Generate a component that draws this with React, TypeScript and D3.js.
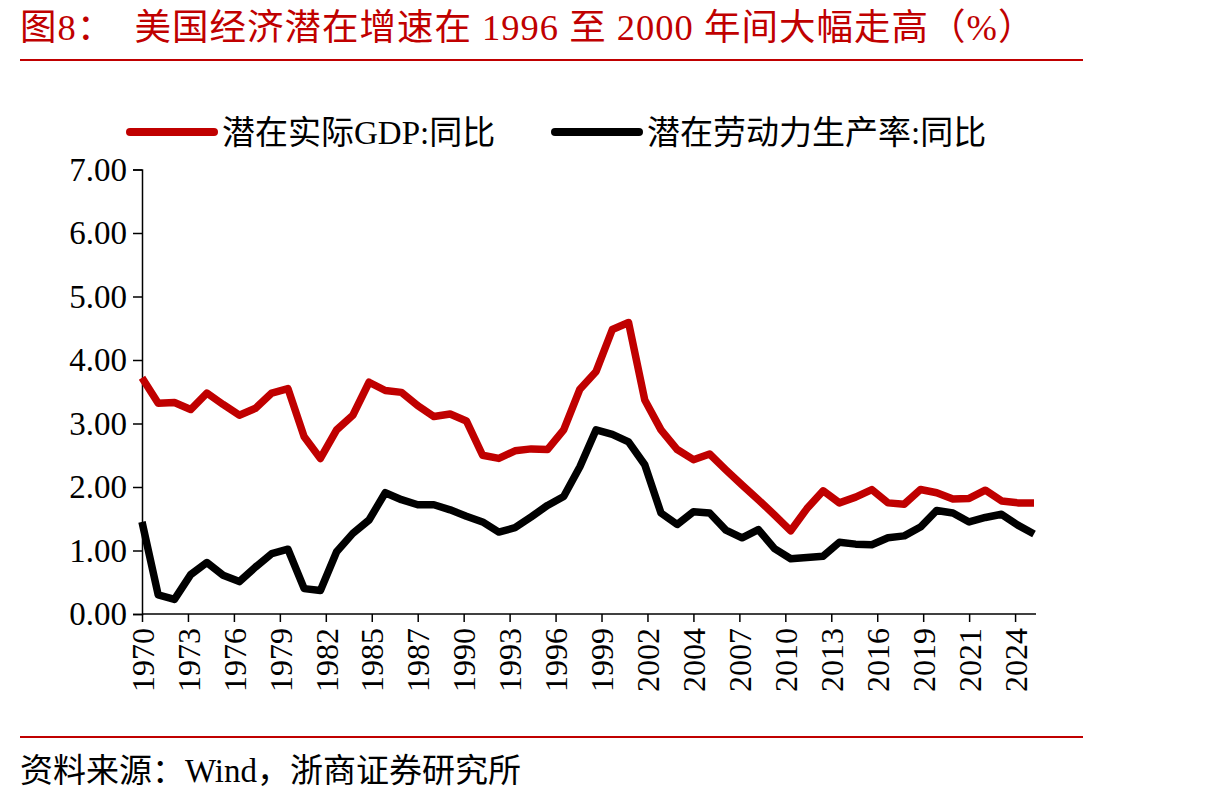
import React, { useRef, useEffect } from 'react';
import * as d3 from 'd3';

// annual series, 1970-2025
const years = [
    1970, 1971, 1972, 1973, 1974, 1975, 1976, 1977, 1978, 1979,
    1980, 1981, 1982, 1983, 1984, 1985, 1986, 1987, 1988, 1989,
    1990, 1991, 1992, 1993, 1994, 1995, 1996, 1997, 1998, 1999,
    2000, 2001, 2002, 2003, 2004, 2005, 2006, 2007, 2008, 2009,
    2010, 2011, 2012, 2013, 2014, 2015, 2016, 2017, 2018, 2019,
    2020, 2021, 2022, 2023, 2024, 2025,
];

const potentialGdp = [
    3.72, 3.32, 3.33, 3.22, 3.48, 3.30, 3.13, 3.24, 3.48, 3.55,
    2.79, 2.45, 2.90, 3.13, 3.65, 3.52, 3.49, 3.28, 3.11, 3.15,
    3.04, 2.50, 2.45, 2.57, 2.60, 2.59, 2.90, 3.54, 3.82, 4.48,
    4.59, 3.37, 2.90, 2.59, 2.43, 2.52, 2.27, 2.03, 1.80, 1.56,
    1.31, 1.66, 1.94, 1.75, 1.84, 1.96, 1.75, 1.73, 1.96, 1.91,
    1.81, 1.82, 1.95, 1.78, 1.75, 1.75,
];

const laborProductivity = [
    1.45, 0.30, 0.23, 0.62, 0.81, 0.61, 0.51, 0.74, 0.95, 1.02,
    0.40, 0.37, 0.98, 1.27, 1.48, 1.91, 1.80, 1.72, 1.72, 1.64,
    1.54, 1.45, 1.29, 1.36, 1.53, 1.71, 1.85, 2.32, 2.90, 2.83,
    2.71, 2.35, 1.59, 1.41, 1.61, 1.59, 1.32, 1.20, 1.33, 1.03,
    0.87, 0.89, 0.91, 1.13, 1.10, 1.09, 1.20, 1.23, 1.37, 1.63,
    1.59, 1.45, 1.52, 1.57, 1.40, 1.26,
];

const seriesNames = ['潜在实际GDP:同比', '潜在劳动力生产率:同比'];
const seriesColors = ['#C00000', '#000000'];

// date axis labels, one every 34 months starting at the first point
const xTickLabels = [
    '1970', '1973', '1976', '1979', '1982', '1985', '1987', '1990', '1993', '1996',
    '1999', '2002', '2004', '2007', '2010', '2013', '2016', '2019', '2021', '2024',
];
const yTicks = [0, 1, 2, 3, 4, 5, 6, 7];

const titleText = '图8：  美国经济潜在增速在 1996 至 2000 年间大幅走高（%）';
const sourceText = '资料来源：Wind，浙商证券研究所';

const WIDTH = 1210;
const HEIGHT = 802;
const FONT = '"Liberation Serif", "Times New Roman", "Noto Sans CJK SC", serif';

export default function App() {
    const svgRef = useRef<SVGSVGElement>(null);

    useEffect(() => {
        if (!svgRef.current) return;
        const svg = d3.select(svgRef.current);
        svg.selectAll('*').remove();

        const left = 142, right = 1034, top = 169.5, bottom = 614;

        const x = d3.scaleLinear().domain([years[0], years[years.length - 1]]).range([left, right]);
        const y = d3.scaleLinear().domain([0, 7]).range([bottom, top]);

        // title + rules
        svg.append('text')
            .attr('x', 20)
            .attr('y', 40)
            .attr('xml:space', 'preserve')
            .style('font-family', FONT)
            .style('font-size', '36.5px')
            .style('letter-spacing', '1px')
            .style('fill', '#C00000')
            .text(titleText);

        svg.append('line')
            .attr('x1', 20).attr('x2', 1083)
            .attr('y1', 60).attr('y2', 60)
            .attr('stroke', '#C00000')
            .attr('stroke-width', 2);

        svg.append('line')
            .attr('x1', 20).attr('x2', 1083)
            .attr('y1', 737).attr('y2', 737)
            .attr('stroke', '#C00000')
            .attr('stroke-width', 2);

        svg.append('text')
            .attr('x', 20)
            .attr('y', 782)
            .style('font-family', FONT)
            .style('font-size', '33px')
            .style('fill', '#000')
            .text(sourceText);

        // legend
        const legendX = [130, 555];
        seriesNames.forEach((name, i) => {
            const g = svg.append('g').attr('transform', `translate(${legendX[i]},132)`);
            g.append('line')
                .attr('x1', 0).attr('x2', 84)
                .attr('stroke', seriesColors[i])
                .attr('stroke-width', 8)
                .attr('stroke-linecap', 'round');
            g.append('text')
                .attr('x', 92)
                .attr('dy', '0.35em')
                .style('font-family', FONT)
                .style('font-size', '33px')
                .style('fill', '#000')
                .text(name);
        });

        // y axis
        const yAxis = svg.append('g')
            .attr('transform', `translate(${left},0)`)
            .call(d3.axisLeft(y).tickValues(yTicks).tickSize(9).tickPadding(6).tickFormat(d => d3.format('.2f')(d as number)));
        yAxis.select('.domain').attr('stroke', '#000').attr('stroke-width', 1.5);
        yAxis.selectAll('line').attr('stroke', '#000').attr('stroke-width', 1.5);
        yAxis.selectAll('text')
            .style('font-family', FONT)
            .style('font-size', '33px')
            .style('fill', '#000');

        // x axis, tick every 34 months
        const xTickValues = xTickLabels.map((_, i) => years[0] + (i * 34) / 12);
        const xAxis = svg.append('g')
            .attr('transform', `translate(0,${bottom})`)
            .call(d3.axisBottom(x).tickValues(xTickValues).tickSize(8).tickSizeOuter(0).tickFormat((_, i) => xTickLabels[i]));
        xAxis.select('.domain')
            .attr('d', `M${left},0H${right + 2}`)
            .attr('stroke', '#000')
            .attr('stroke-width', 1.5);
        xAxis.selectAll('line').attr('stroke', '#000').attr('stroke-width', 1.5);
        xAxis.selectAll('text')
            .attr('transform', 'rotate(-90)')
            .attr('x', -14)
            .attr('y', 0)
            .attr('dy', '0.35em')
            .style('text-anchor', 'end')
            .style('font-family', FONT)
            .style('font-size', '32px')
            .style('fill', '#000');

        // lines
        const line = d3.line<number>()
            .x((_, i) => x(years[i]))
            .y(d => y(d));

        [potentialGdp, laborProductivity].forEach((values, i) => {
            svg.append('path')
                .datum(values)
                .attr('d', line)
                .attr('fill', 'none')
                .attr('stroke', seriesColors[i])
                .attr('stroke-width', 7.5)
                .attr('stroke-linejoin', 'round');
        });
    }, []);

    return (
        <svg
            ref={svgRef}
            width={WIDTH}
            height={HEIGHT}
            style={{ position: 'absolute', left: 0, top: 0, background: '#fff', display: 'block' }}
        />
    );
}
